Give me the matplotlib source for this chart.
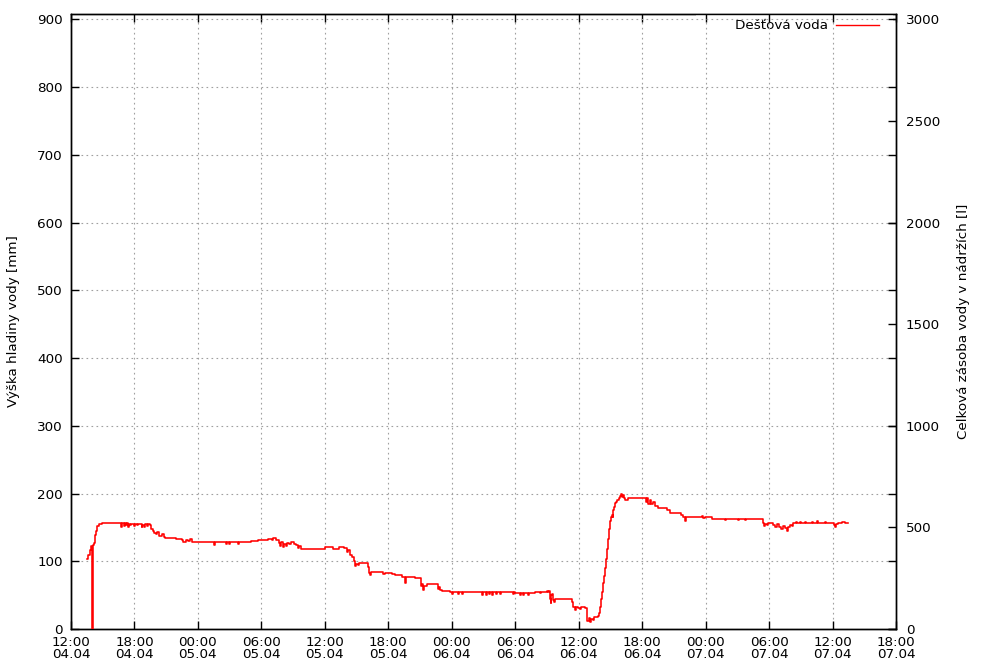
import matplotlib
matplotlib.use("Agg")
import matplotlib.pyplot as plt
import matplotlib.dates as mdates
from matplotlib.patches import Rectangle
from matplotlib.lines import Line2D
import datetime as dt

plt.rcParams['font.family'] = ['DejaVu Sans']

# ---- data: hours after 04.04 12:00, water level [mm] ----
hours = [
    1.47, 1.61, 1.75, 1.89, 2.01, 2.06, 2.17, 2.27, 2.36, 2.49, 2.65, 2.93,
    4.77, 4.85, 5.01, 5.09, 5.20, 5.30, 5.39, 5.46, 5.58, 5.67, 5.96, 6.05,
    6.24, 6.33, 6.67, 6.74, 6.90, 7.00, 7.19, 7.28, 7.47, 7.61, 7.75, 7.85,
    8.04, 8.13, 8.32, 8.51, 8.60, 8.75, 8.89, 9.08, 9.36, 9.93, 10.49, 10.59,
    10.87, 11.06, 11.25, 11.44, 11.82, 13.52, 13.59, 14.65, 14.72, 14.94, 15.00,
    15.79, 15.85, 17.02, 17.68, 18.63, 19.00, 19.10, 19.38, 19.67, 19.76, 19.85,
    20.04, 20.14, 20.33, 20.42, 20.61, 20.80, 20.99, 21.08, 21.27, 21.46, 21.56,
    21.75, 24.00, 24.77, 25.34, 25.81, 26.09, 26.19, 26.38, 26.57, 26.71, 26.85,
    26.99, 27.13, 27.23, 28.08, 28.16, 28.27, 28.41, 29.50, 29.69, 30.35, 30.63,
    30.92, 31.29, 31.58, 31.65, 32.52, 33.09, 33.19, 33.28, 33.38, 33.66, 34.70,
    34.79, 34.89, 35.08, 35.83, 36.02, 36.08, 36.59, 36.65, 37.00, 37.06, 38.86,
    38.91, 39.24, 39.29, 39.52, 39.58, 39.80, 39.86, 40.18, 40.24, 40.56, 40.62,
    41.79, 41.88, 41.98, 42.45, 42.51, 42.74, 42.80, 43.21, 43.27, 43.87, 44.34,
    44.43, 44.96, 45.10, 45.19, 45.29, 45.34, 45.38, 45.48, 45.57, 45.66, 45.76,
    47.37, 47.46, 47.65, 47.74, 47.93, 48.12, 48.21, 48.60, 48.74, 48.83, 48.93,
    49.07, 49.17, 49.36, 49.45, 49.83, 49.92, 50.02, 50.11, 50.21, 50.30, 50.40,
    50.49, 50.59, 50.68, 50.77, 50.87, 50.96, 51.05, 51.12, 51.20, 51.24, 51.33,
    51.43, 51.52, 51.62, 51.80, 51.90, 52.04, 52.13, 52.23, 52.32, 52.42, 52.56,
    52.70, 54.35, 54.45, 54.54, 54.73, 54.87, 55.02, 55.21, 55.40, 55.49, 56.34,
    56.63, 57.67, 57.86, 58.05, 58.15, 59.47, 59.66, 59.75, 59.94, 60.60, 61.83,
    61.88, 63.06, 63.12, 63.72, 63.78, 65.42, 65.51, 65.60, 65.79, 65.89, 66.37,
    66.56, 66.75, 66.94, 67.13, 67.32, 67.50, 67.69, 67.79, 67.98, 68.17, 68.26,
    68.54, 68.64, 68.92, 69.02, 69.40, 69.50, 70.06, 70.16, 70.53, 70.63, 71.29,
    71.39, 72.14, 72.24, 72.33, 72.52, 72.90, 73.18, 73.46,
]
level_mm = [
    104, 109, 117, 123, 0, 124, 127, 139, 144, 152, 155, 157,
    151, 157, 152, 156, 153, 156, 150, 155, 153, 155, 152, 155,
    153, 155, 150, 154, 151, 155, 152, 155, 153, 147, 145, 142,
    141, 143, 138, 137, 140, 136, 134, 135, 134, 133, 131, 129,
    131, 130, 133, 129, 128, 124, 128, 125, 128, 125, 128,
    125, 128, 130, 131, 133, 131, 134, 132, 127, 123, 128,
    121, 126, 122, 127, 125, 128, 129, 125, 124, 119, 122,
    118, 121, 118, 121, 119, 114, 117, 110, 106, 100, 93,
    96, 95, 98, 92, 82, 80, 84, 81, 83, 81, 79,
    80, 77, 68, 77, 75, 63, 66, 58, 64, 67, 59,
    62, 57, 56, 54, 51, 54, 51, 54, 51, 54, 50,
    54, 50, 54, 51, 54, 50, 54, 51, 54, 51, 54,
    51, 54, 53, 50, 53, 50, 53, 50, 53, 54, 53,
    54, 56, 54, 56, 45, 38, 50, 52, 43, 40, 44,
    40, 33, 28, 33, 31, 29, 33, 31, 17, 12, 16,
    11, 15, 13, 17, 19, 23, 32, 45, 55, 68, 78,
    90, 103, 118, 133, 148, 159, 165, 169, 166, 176, 180,
    186, 188, 191, 194, 196, 199, 195, 198, 193, 190, 191,
    193, 188, 193, 185, 190, 184, 187, 181, 182, 179, 176,
    171, 168, 166, 159, 165, 165, 167, 164, 165, 162, 161,
    162, 161, 162, 161, 162, 156, 152, 155, 153, 156, 153,
    151, 155, 150, 147, 152, 149, 145, 151, 154, 152, 156,
    158, 156, 158, 156, 158, 156, 158, 156, 159, 156, 158,
    156, 153, 150, 155, 157, 158, 157, 157,
]
series_label = "Dešťová voda"
left_label = "Výška hladiny vody [mm]"
right_label = "Celková zásoba vody v nádržích [l]"
left_ticks = [0, 100, 200, 300, 400, 500, 600, 700, 800, 900]
right_ticks = [0, 500, 1000, 1500, 2000, 2500, 3000]

base = dt.datetime(2024, 4, 4, 12, 0)
times = [base + dt.timedelta(hours=h) for h in hours]

FS = 9.7
fig = plt.figure(figsize=(10, 6.7), dpi=100)
ax = fig.add_axes([0.071, 0.0612, 0.825, 0.9178])
ax2 = ax.twinx()

ax.plot(times, level_mm, color='#ff0000', lw=1.15, drawstyle='steps-post', zorder=5)

ymax = 908
ax.set_ylim(0, ymax)
ax2.set_ylim(0, ymax * 10 / 3)
ax.set_xlim(base, base + dt.timedelta(hours=78))

ax.set_yticks(left_ticks)
ax2.set_yticks(right_ticks)
ax.xaxis.set_major_locator(mdates.HourLocator(byhour=[0, 6, 12, 18]))
ax.xaxis.set_major_formatter(mdates.DateFormatter('%H:%M\n%d.%m'))

ax.grid(True, color='#a0a0a0', linestyle=(0, (1.5, 3)), linewidth=0.8)
ax.set_axisbelow(True)

ax.tick_params(axis='both', direction='in', length=6, width=1, labelsize=FS,
               top=True, right=True, pad=6)
ax.tick_params(axis='x', pad=5)
ax2.tick_params(axis='y', direction='in', length=6, width=1, labelsize=FS, pad=7)
for lbl in ax.get_xticklabels():
    lbl.set_linespacing(0.95)

for a in (ax, ax2):
    for s in a.spines.values():
        s.set_linewidth(1.0)
        s.set_color('black')

ax.set_ylabel(left_label, fontsize=FS, labelpad=12)
ax2.set_ylabel(right_label, fontsize=FS, labelpad=12)

# legend (gnuplot style: white box, text then line sample)
ax2.add_patch(Rectangle((0.758, 0.970), 0.238, 0.029, transform=ax.transAxes,
                        facecolor='white', edgecolor='none', zorder=3))
ax2.text(0.917, 0.982, series_label, transform=ax.transAxes, ha='right',
         va='center', fontsize=FS, zorder=4)
ax2.add_line(Line2D([0.927, 0.979], [0.982, 0.982], transform=ax.transAxes,
                    color='#ff0000', lw=1.0, zorder=4))
ax.set_zorder(ax2.get_zorder() + 1)
ax.patch.set_visible(False)

fig.savefig('out.png', dpi=100)
